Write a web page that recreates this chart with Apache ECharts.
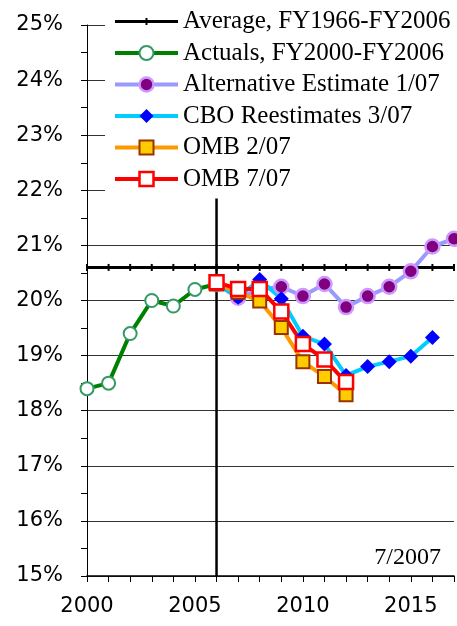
<!DOCTYPE html>
<html lang="en" style="height: 100%">
<head>
  <meta charset="utf-8">
</head>
<body style="height: 100%; margin: 0; background: #fff">
  <div id="container" style="width: 457px; height: 626px"></div>
  <script type="text/javascript" src="https://fastly.jsdelivr.net/npm/echarts@6.0.0/dist/echarts.min.js"></script>
  <script type="text/javascript">
    // outlays as % of GDP
    var avgYears = [2000, 2001, 2002, 2003, 2004, 2005, 2006, 2007, 2008, 2009, 2010, 2011, 2012, 2013, 2014, 2015, 2016, 2017];
    var avgValue = 20.6;

    var actualYears = [2000, 2001, 2002, 2003, 2004, 2005, 2006];
    var actuals = [18.4, 18.5, 19.4, 20.0, 19.9, 20.2, 20.3];

    var altYears = [2006, 2007, 2008, 2009, 2010, 2011, 2012, 2013, 2014, 2015, 2016, 2017];
    var altEstimate = [20.3, 20.05, 20.2, 20.25, 20.08, 20.3, 19.88, 20.08, 20.25, 20.53, 20.98, 21.12];

    var cboYears = [2006, 2007, 2008, 2009, 2010, 2011, 2012, 2013, 2014, 2015, 2016];
    var cboReest = [20.3, 20.06, 20.38, 20.03, 19.35, 19.21, 18.64, 18.8, 18.89, 18.99, 19.33];

    var ombYears = [2006, 2007, 2008, 2009, 2010, 2011, 2012];
    var omb0207 = [20.3, 20.15, 19.99, 19.51, 18.89, 18.62, 18.29];
    var omb0707 = [20.33, 20.21, 20.21, 19.8, 19.21, 18.93, 18.52];

    var splitYear = 2006;

    function pairs(xs, ys) {
      return xs.map(function (x, i) { return [x, ys[i]]; });
    }

    // small tick marker, padded so it stays small in the legend too
    var tickMark = 'path://M0,0M14,14M6,3.5h2v7h-2z';

    var dom = document.getElementById('container');
    var myChart = echarts.init(dom, null, { renderer: 'canvas' });

    var option = {
      animation: false,
      backgroundColor: '#fff',
      grid: { left: 87, right: 3, top: 25, bottom: 50 },
      legend: {
        data: ['Average, FY1966-FY2006', 'Actuals, FY2000-FY2006', 'Alternative Estimate 1/07',
          'CBO Reestimates 3/07', 'OMB 2/07', 'OMB 7/07'],
        orient: 'vertical',
        left: 105,
        top: 0,
        padding: [9, 20, 7, 8],
        backgroundColor: '#fff',
        itemWidth: 63,
        itemHeight: 17.5,
        itemGap: 6.5,
        lineStyle: { width: 'inherit' },
        itemStyle: { borderWidth: 'inherit' },
        textStyle: { fontFamily: 'Liberation Serif', fontSize: 25, lineHeight: 24, color: '#000' }
      },
      xAxis: {
        type: 'value',
        min: 2000,
        max: 2017,
        interval: 1,
        axisLine: { lineStyle: { color: '#000', width: 1.5 } },
        axisTick: { length: 6, lineStyle: { color: '#000' } },
        axisLabel: {
          margin: 20,
          fontFamily: 'DejaVu Sans',
          fontSize: 21,
          color: '#000',
          formatter: function (v) { return v % 5 === 0 ? String(v) : ''; }
        },
        splitLine: { show: false }
      },
      yAxis: {
        type: 'value',
        min: 15,
        max: 25,
        interval: 1,
        axisLine: { show: true, lineStyle: { color: '#000', width: 1 } },
        axisTick: { show: true, length: 6, lineStyle: { color: '#000' } },
        minorTick: { show: true, splitNumber: 2, length: 6, lineStyle: { color: '#000' } },
        axisLabel: {
          margin: 24,
          fontFamily: 'DejaVu Sans',
          fontSize: 21,
          color: '#000',
          formatter: '{value}%'
        },
        splitLine: { lineStyle: { color: '#333', width: 1 } }
      },
      graphic: [{
        type: 'text',
        right: 16,
        top: 546,
        style: { text: '7/2007', font: '24px "Liberation Serif"', fill: '#000' }
      }],
      series: [
        {
          name: 'split',
          type: 'line',
          silent: true,
          symbol: 'none',
          lineStyle: { color: '#000', width: 2.5 },
          data: [[splitYear, 15], [splitYear, 25]]
        },
        {
          name: 'Average, FY1966-FY2006',
          type: 'line',
          symbol: tickMark,
          symbolSize: 14,
          color: '#000',
          itemStyle: { color: '#000' },
          lineStyle: { color: '#000', width: 3 },
          data: avgYears.map(function (y) { return [y, avgValue]; })
        },
        {
          name: 'Actuals, FY2000-FY2006',
          type: 'line',
          symbol: 'circle',
          symbolSize: 13,
          showAllSymbol: true,
          color: '#008000',
          lineStyle: { color: '#008000', width: 4 },
          itemStyle: { color: '#fff', borderColor: '#339966', borderWidth: 2 },
          data: pairs(actualYears, actuals)
        },
        {
          name: 'Alternative Estimate 1/07',
          type: 'line',
          symbol: 'circle',
          symbolSize: 14,
          color: '#9999ff',
          lineStyle: { color: '#9999ff', width: 4 },
          itemStyle: { color: '#800080', borderColor: '#cc99ff', borderWidth: 2.5 },
          data: pairs(altYears, altEstimate)
        },
        {
          name: 'CBO Reestimates 3/07',
          type: 'line',
          symbol: 'diamond',
          symbolSize: 15,
          color: '#00ccff',
          lineStyle: { color: '#00ccff', width: 4 },
          itemStyle: { color: '#0000ff', borderWidth: 0 },
          data: pairs(cboYears, cboReest)
        },
        {
          name: 'OMB 2/07',
          type: 'line',
          symbol: 'rect',
          symbolSize: 13,
          color: '#ff9900',
          lineStyle: { color: '#ff9900', width: 4 },
          itemStyle: { color: '#ffcc00', borderColor: '#993300', borderWidth: 2 },
          data: pairs(ombYears, omb0207)
        },
        {
          name: 'OMB 7/07',
          type: 'line',
          symbol: 'rect',
          symbolSize: 14,
          color: '#ff0000',
          lineStyle: { color: '#ff0000', width: 4 },
          itemStyle: { color: '#fff', borderColor: '#ff0000', borderWidth: 2.5 },
          data: pairs(ombYears, omb0707)
        }
      ]
    };

    myChart.setOption(option);
    window.addEventListener('resize', myChart.resize);
  </script>
</body>
</html>
